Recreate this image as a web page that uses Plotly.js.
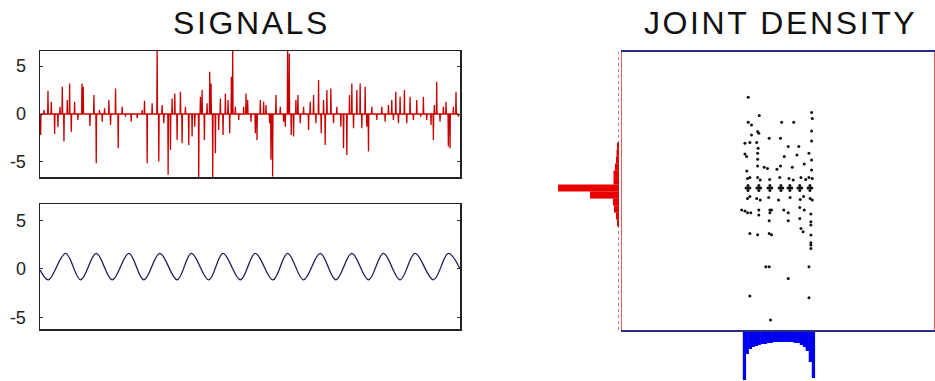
<!DOCTYPE html>
<html>
<head>
<meta charset="utf-8">
<script src="https://cdn.plot.ly/plotly-3.0.1.min.js"></script>
<style>
  html, body { margin: 0; padding: 0; background: #fff; }
  #chart { width: 935px; height: 381px; }
  .annotation-text { letter-spacing: 2.6px; }
</style>
</head>
<body>
<div id="chart"></div>
<script>
// ---------- DATA ----------
const titles = ['SIGNALS', 'JOINT DENSITY'];
const yTickVals = [-5, 0, 5];
const yTickText = ['-5', '0', '5'];

// top signal: sparse spiky source (sample index, value)
const spikeTime = [2,12,24,34,44,54,60,67,72,82,89,94,104,114,126,130,150,162,169,179,187,194,207,212,227,235,247,257,274,292,307,314,322,337,352,357,367,372,385,392,397,405,412,422,427,437,447,457,465,477,482,487,494,502,510,514,519,527,537,542,550,557,565,570,575,579,587,597,612,619,624,634,647,652,662,672,679,690,694,699,709,722,732,737,744,749,755,762,769,775,782,792,807,812,822,829,837,845,852,857,862,874,882,892,904,912,922,930,937,942,952,962,967,977,982,987,997,1012,1027,1037,1047,1057,1062,1069,1077,1082,1095,1102,1112,1122,1132,1144,1152,1162,1175,1182,1185,1192,1202,1212,1220,1227,1232,1242,1250,1257];
const spikeValue = [-2.19,0.42,2.43,1.28,-2.08,-1.39,0.76,2.85,-2.88,1.46,3.19,-1.84,1.28,-0.63,3.19,2.85,-1.25,1.98,-5.14,0.42,-0.80,0.59,1.46,-1.15,2.67,-3.58,0.76,-0.28,-0.80,-0.45,0.42,1.39,-5.14,1.11,7,-4.97,0.94,-0.97,-6.35,-3.75,1.63,2.15,-2.71,2.33,-3.06,0.76,-3.23,-2.36,-1.32,-7,1.81,2.50,-2.71,1.11,4.41,3.19,-7,-4.10,-1.67,1.63,-2.19,2.15,1.46,-2.01,3.89,7,0.76,-0.63,0.76,2.15,1.46,-0.80,-2.01,-2.71,1.46,1.28,0.94,-0.97,-4.79,-6.53,1.98,0.76,-0.80,-1.32,7,6.32,-2.19,-2.36,1.46,1.98,-0.97,0.76,-1.67,1.28,1.98,-0.97,3.54,-2.01,1.46,-3.23,2.50,2.67,-0.97,0.76,-1.32,-3.58,-4.27,1.98,3.19,-1.49,2.50,3.19,-1.49,2.85,-1.32,-3.92,0.76,-0.63,0.76,-0.80,0.94,1.46,-0.63,2.33,-0.97,1.81,2.50,-0.97,1.81,-0.63,1.46,-0.28,1.81,-0.63,-1.15,-2.71,0.94,3.37,-0.80,0.76,1.28,-3.40,-3.58,0.76,2.33,-0.28];

// bottom signal: sinusoid, turning points (sample index, value)
const sineTime = [0,25,77,122,169,217,267,312,360,412,455,507,550,602,647,700,744,792,842,889,937,987,1032,1082,1127,1182,1227,1262];
const sineValue = [-0.1,-1.13,1.6,-1.13,1.6,-1.13,1.6,-1.13,1.6,-1.13,1.6,-1.13,1.6,-1.13,1.6,-1.13,1.6,-1.13,1.6,-1.13,1.6,-1.13,1.6,-1.13,1.6,-1.13,1.6,0.0];

// joint density scatter (x = sinusoid value, y = spiky value)
const scatterX = [-1.09,-0.62,-1.09,-0.95,0.33,0.84,1.60,1.63,-0.69,-0.64,-0.95,-0.20,0.28,1.60,-1.23,-1.02,-0.73,-0.67,0.61,1.06,1.60,-1.23,-1.16,-0.69,0.44,0.98,1.49,1.60,-0.69,-0.69,-0.41,-0.27,0.13,0.28,0.78,1.29,-1.15,1.60,
  -1.12,-1.02,-0.69,-0.58,-0.18,0.25,0.64,0.82,1.15,1.35,1.49,1.63,
  -1.18,-1.02,-1.10,-1.10,-1.10,-0.72,-0.56,-0.64,-0.64,-0.64,-0.25,-0.09,-0.17,-0.17,-0.17,0.22,0.38,0.30,0.30,0.30,0.60,0.76,0.68,0.68,0.68,1.02,1.18,1.10,1.10,1.10,1.45,1.61,1.53,1.53,1.53,
  -1.12,-1.02,-0.73,-0.58,-0.22,0.20,0.69,1.12,1.26,1.54,1.63,
  -1.37,-1.23,-1.12,-0.98,-0.64,-0.64,-0.17,-0.10,-0.17,0.42,0.61,1.10,1.29,1.57,-0.20,0.61,1.10,1.57,1.57,-1.02,-0.69,-0.20,-0.10,1.15,1.24,1.57,1.57,1.57,1.57,-0.34,-0.20,1.49,0.61,-1.02,1.49,-0.14];
const scatterY = [4.54,3.62,3.29,3.15,3.29,3.29,3.77,3.47,2.82,2.74,2.65,2.49,2.49,2.85,2.24,2.27,2.27,1.99,2.07,2.07,2.35,1.70,1.57,1.74,1.57,1.65,1.74,1.40,1.44,1.10,1.04,0.97,0.94,1.10,1.04,1.20,0.85,0.90,
  0.48,0.53,0.53,0.40,0.43,0.53,0.48,0.40,0.53,0.43,0.53,0.48,
  0,0,0.12,-0.12,0,0,0,0.12,-0.12,0,0,0,0.12,-0.12,0,0,0,0.12,-0.12,0,0,0,0.12,-0.12,0,0,0,0.12,-0.12,0,0,0,0.12,-0.12,0,
  -0.52,-0.43,-0.52,-0.60,-0.47,-0.60,-0.47,-0.57,-0.43,-0.52,-0.60,
  -1.10,-1.15,-1.24,-1.24,-1.10,-1.35,-1.10,-1.10,-1.24,-1.10,-1.24,-0.97,-1.10,-1.30,-1.64,-1.64,-1.52,-1.69,-1.85,-2.27,-2.34,-2.27,-2.34,-2.02,-2.19,-2.35,-2.74,-2.85,-3.02,-3.94,-3.94,-3.94,-4.52,-5.40,-5.49,-6.60];

// marginal histogram of the spiky signal (bin centre, count)
const redBinCenter = [2.1,1.75,1.4,1.05,0.7,0.35,0,-0.35,-0.7,-1.05,-1.4,-1.75];
const redBinCount  = [4,5,6,8,11,11,122,58,12,10,6,4];

// marginal histogram of the sinusoid (bin centre, count)
const blueBinCenter = [-1.25,-1.13,-1.00,-0.87,-0.74,-0.62,-0.49,-0.36,-0.23,-0.11,0.02,0.15,0.28,0.40,0.53,0.66,0.79,0.91,1.04,1.17,1.30,1.42,1.55,1.68];
const blueBinCount  = [96,44,34,30,28,26,24,24,22,22,20,20,20,20,20,20,20,22,22,26,30,38,60,92];

// ---------- BUILD TRACES ----------
const sigX = [], sigY = [];
spikeTime.forEach((t, i) => {
  sigX.push(t - 1, t, t + 1);
  sigY.push(0, spikeValue[i], 0);
});

const W = 935, H = 381;
const px = v => v / W;
const py = v => (H - v) / H;

const traces = [
  { x: sigX, y: sigY, xaxis: 'x', yaxis: 'y', type: 'scatter', mode: 'lines',
    line: { color: '#c80000', width: 1.3 }, hoverinfo: 'skip' },
  { x: sineTime, y: sineValue, xaxis: 'x2', yaxis: 'y2', type: 'scatter', mode: 'lines',
    line: { color: '#1c1c5c', width: 1.3, shape: 'spline', smoothing: 1 }, hoverinfo: 'skip' },
  { x: scatterX, y: scatterY, xaxis: 'x3', yaxis: 'y3', type: 'scatter', mode: 'markers',
    marker: { color: '#111', size: 3, symbol: 'circle' }, hoverinfo: 'skip' },
  { x: redBinCount, y: redBinCenter, xaxis: 'x4', yaxis: 'y3', type: 'bar', orientation: 'h',
    width: 0.36, marker: { color: '#e80000', line: { width: 0 } }, hoverinfo: 'skip' },
  { x: blueBinCenter, y: blueBinCount, xaxis: 'x3', yaxis: 'y4', type: 'bar',
    width: 0.14, marker: { color: '#0000f0', line: { width: 0 } }, hoverinfo: 'skip' }
];

const sigYAxis = (dom, rng, anchor) => ({
  domain: dom, range: rng, anchor: anchor,
  showline: true, mirror: 'ticks', linecolor: '#222', linewidth: 1.5,
  ticks: 'inside', ticklen: 3, tickcolor: '#333',
  tickvals: yTickVals, ticktext: yTickText,
  tickfont: { family: 'Liberation Sans, Arial, sans-serif', size: 18, color: '#222' },
  ticklabelstandoff: 9,
  showgrid: false, zeroline: false, fixedrange: true
});
const sigXAxis = (anchor) => ({
  domain: [px(40), px(460)], range: [0, 1262], anchor: anchor,
  showline: true, mirror: true, linecolor: '#222', linewidth: 1.5,
  ticks: '', showticklabels: false, showgrid: false, zeroline: false, fixedrange: true
});

const layout = {
  width: W, height: H,
  margin: { l: 0, r: 0, t: 0, b: 0 },
  paper_bgcolor: '#fff', plot_bgcolor: 'rgba(0,0,0,0)',
  showlegend: false,
  xaxis: sigXAxis('y'),
  yaxis: sigYAxis([py(177), py(51)], [-6.58, 6.58], 'x'),
  xaxis2: sigXAxis('y2'),
  yaxis2: sigYAxis([py(329), py(204)], [-6.2, 6.7], 'x2'),
  xaxis3: { domain: [px(622), px(934)], range: [-6.45, 6.8], anchor: 'y3',
    showline: true, mirror: true, linecolor: '#2c2c84', linewidth: 2,
    ticks: '', showticklabels: false, showgrid: false, zeroline: false, fixedrange: true },
  yaxis3: { domain: [py(330), py(52)], range: [-7.1, 6.8], anchor: 'x3',
    showline: true, mirror: true, linecolor: '#e06060', linewidth: 1.5,
    ticks: '', showticklabels: false, showgrid: false, zeroline: false, fixedrange: true },
  xaxis4: { domain: [px(557), px(619)], range: [124, 0], anchor: 'y3', visible: false, fixedrange: true },
  yaxis4: { domain: [0, py(332)], range: [98, 0], anchor: 'x3', visible: false, fixedrange: true },
  shapes: [
    { type: 'line', xref: 'x4', x0: 0, x1: 0, yref: 'y3 domain', y0: 0, y1: 1,
      line: { color: '#a02828', width: 1.2, dash: 'dot' } }
  ],
  annotations: [
    { text: titles[0], xref: 'paper', yref: 'paper', x: px(251), y: py(23),
      xanchor: 'center', yanchor: 'middle', showarrow: false,
      font: { family: 'Liberation Sans, Arial, sans-serif', size: 32, color: '#111' } },
    { text: titles[1], xref: 'paper', yref: 'paper', x: px(780), y: py(23),
      xanchor: 'center', yanchor: 'middle', showarrow: false,
      font: { family: 'Liberation Sans, Arial, sans-serif', size: 32, color: '#111' } }
  ]
};

Plotly.newPlot('chart', traces, layout, { staticPlot: true, displayModeBar: false });
</script>
</body>
</html>
